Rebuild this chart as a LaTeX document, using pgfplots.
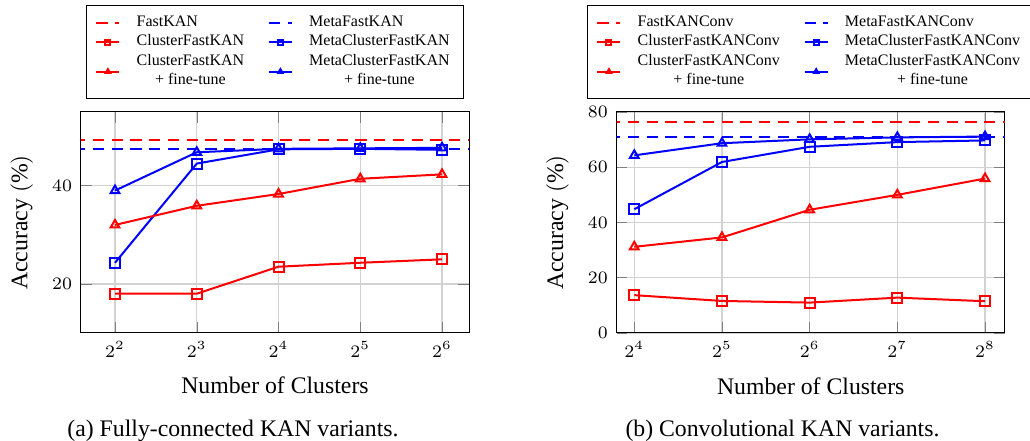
\documentclass[border=0pt]{standalone}
\usepackage{fontspec}
\setmainfont{Liberation Serif}
\usepackage{pgfplots}
\pgfplotsset{compat=1.18}

\pgfplotsset{
  kanstyle/.style={
    scale only axis, width=155.2pt, height=88.4pt,
    grid=major, grid style={gray!35, line width=0.5pt},
    tick label style={font=\fontsize{7.5}{9}\selectfont},
    label style={font=\fontsize{9.5}{11}\selectfont},
    xlabel={Number of Clusters},
    ylabel={Accuracy $(\%)$},
    xlabel style={at={(axis description cs:0.5,-0.276)}, anchor=base},
    ylabel style={at={(axis description cs:-0.153,0.5)}, anchor=center},
    legend columns=2,
    legend style={at={(0.5,1)}, yshift=5.2pt, anchor=south, draw=black,
      inner xsep=3.5pt, inner ysep=1.9pt, row sep=-2pt,
      font=\fontsize{6.4}{7.7}\selectfont,
      cells={anchor=west, align=center, inner ysep=1pt},
      /tikz/every odd column/.append style={column sep=4.5pt},
      /tikz/every even column/.append style={column sep=7.5pt}},
    legend image code/.code={\draw[mark repeat=2, mark phase=2, #1, mark size=1pt]
      plot coordinates {(0pt,0pt) (4.6pt,0pt) (9.2pt,0pt)};},
    every axis plot/.append style={thick},
  },
  base/.style={no marks, dash pattern=on 4.5pt off 3pt},
  sq/.style={mark=square, mark size=2pt},
  tri/.style={mark=triangle, mark size=2pt},
}

\begin{document}
\begin{tikzpicture}
\useasboundingbox (-32.4pt,-43.2pt) rectangle (379.6pt,133.2pt);

% (a) fully-connected
\begin{axis}[kanstyle, at={(0,0)},
  xmin=1.584, xmax=6.33, ymin=10, ymax=55,
  xtick={2,3,4,5,6}, xticklabels={$2^{2}$,$2^{3}$,$2^{4}$,$2^{5}$,$2^{6}$},
  ytick={20,40}]
\addplot[red, base] coordinates {(1.5,49.3) (6.5,49.3)};
\addlegendentry{FastKAN}
\addplot[blue, base] coordinates {(1.5,47.4) (6.5,47.4)};
\addlegendentry{MetaFastKAN}
\addplot[red, sq] coordinates {(2,18.0) (3,18.0) (4,23.5) (5,24.3) (6,25.0)};
\addlegendentry{ClusterFastKAN}
\addplot[blue, sq] coordinates {(2,24.3) (3,44.5) (4,47.4) (5,47.5) (6,47.3)};
\addlegendentry{MetaClusterFastKAN}
\addplot[red, tri] coordinates {(2,32.0) (3,35.9) (4,38.3) (5,41.4) (6,42.3)};
\addlegendentry{ClusterFastKAN\\+ fine-tune}
\addplot[blue, tri] coordinates {(2,39.0) (3,46.8) (4,47.5) (5,47.6) (6,47.7)};
\addlegendentry{MetaClusterFastKAN\\+ fine-tune}
\end{axis}

% (b) convolutional
\begin{axis}[kanstyle, at={(214.3pt,0)},
  xmin=3.80, xmax=8.225, ymin=0, ymax=80,
  xtick={4,5,6,7,8}, xticklabels={$2^{4}$,$2^{5}$,$2^{6}$,$2^{7}$,$2^{8}$},
  ytick={0,20,40,60,80}]
\addplot[red, base] coordinates {(3.5,76.2) (8.5,76.2)};
\addlegendentry{FastKANConv}
\addplot[blue, base] coordinates {(3.5,70.9) (8.5,70.9)};
\addlegendentry{MetaFastKANConv}
\addplot[red, sq] coordinates {(4,13.7) (5,11.6) (6,11.0) (7,12.8) (8,11.5)};
\addlegendentry{ClusterFastKANConv}
\addplot[blue, sq] coordinates {(4,44.8) (5,61.9) (6,67.4) (7,69.1) (8,69.7)};
\addlegendentry{MetaClusterFastKANConv}
\addplot[red, tri] coordinates {(4,31.2) (5,34.6) (6,44.6) (7,50.0) (8,55.9)};
\addlegendentry{ClusterFastKANConv\\+ fine-tune}
\addplot[blue, tri] coordinates {(4,64.3) (5,68.7) (6,70.1) (7,70.8) (8,71.1)};
\addlegendentry{MetaClusterFastKANConv\\+ fine-tune}
\end{axis}

\node[anchor=base, font=\fontsize{9.5}{11}\selectfont] at (60.8pt,-41.6pt) {(a) Fully-connected KAN variants.};
\node[anchor=base, font=\fontsize{9.5}{11}\selectfont] at (280.6pt,-41.6pt) {(b) Convolutional KAN variants.};
\end{tikzpicture}
\end{document}
